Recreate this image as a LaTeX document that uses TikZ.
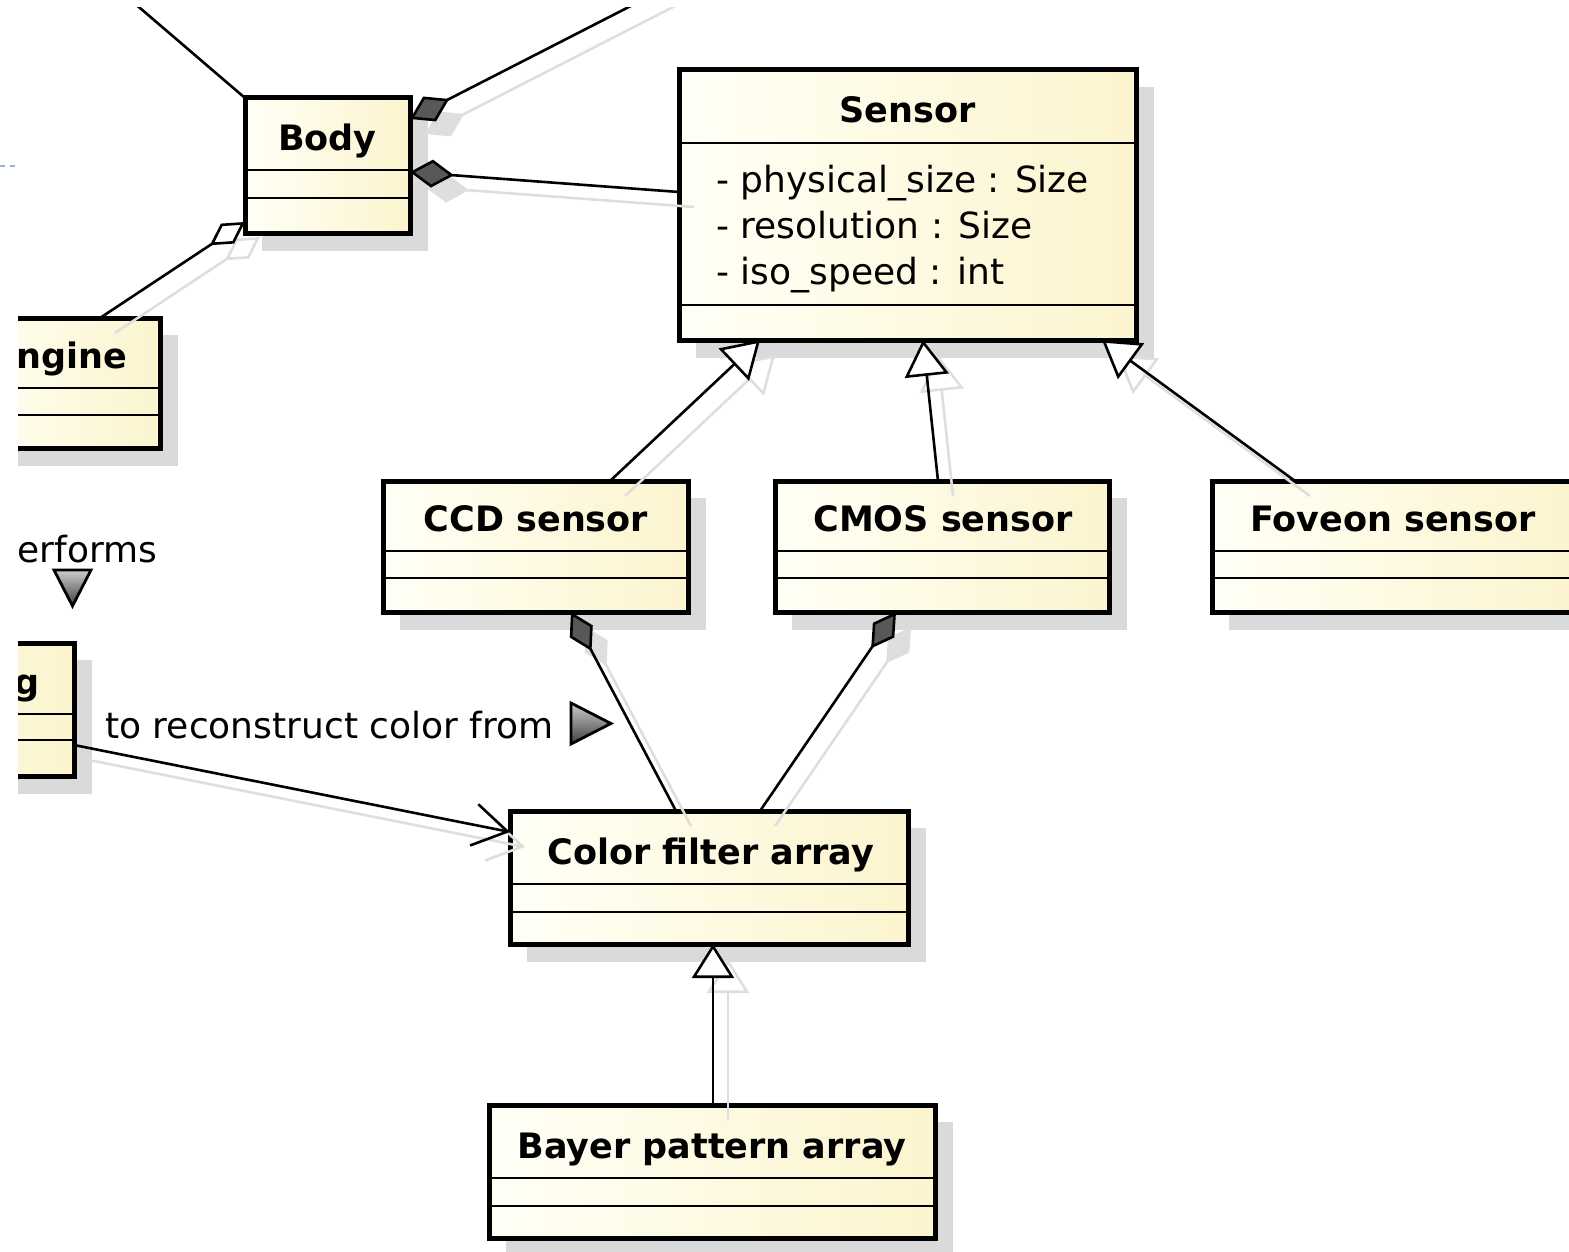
\documentclass[tikz,border=0pt]{standalone}
\usepackage{fontspec}
\setmainfont{DejaVu Sans}
\usetikzlibrary{arrows.meta,fit}

\definecolor{creamL}{RGB}{255,255,246}
\definecolor{creamR}{RGB}{252,244,206}
\definecolor{boxshadow}{RGB}{218,218,218}
\definecolor{linkshadow}{RGB}{222,222,222}
\definecolor{tipgray}{RGB}{88,88,88}
\definecolor{editorblue}{RGB}{150,180,215}

\tikzset{
  classbox/.style={draw=black, line width=2.5pt, inner sep=0pt, outer sep=0pt,
    left color=creamL, right color=creamR},
  rule/.style={draw=black, line width=1pt},
  classtitle/.style={font=\bfseries\fontsize{17.5}{20}\selectfont, inner sep=0pt, anchor=base},
  attrtext/.style={font=\fontsize{18}{21}\selectfont, inner sep=0pt, anchor=base west},
  link/.style={line width=1.3pt, line join=miter},
  readtri/.style={draw=black, line width=1.4pt, line join=miter,
    top color=gray!40, bottom color=black!75},
}

% class box: name, left, top, right, bottom, first rule, second rule (pixel units)
\newcommand\umlclass[7]{%
  \fill[boxshadow] ({#2+17},{#3+17}) rectangle ({#4+18},{#5+18});
  \node[classbox, fit={(#2,#3) (#4,#5)}] (#1) {};
  \draw[rule] (#2,#6) -- (#4,#6);
  \draw[rule] (#2,#7) -- (#4,#7);
}

% all associations except the one leaving the top-left corner
\newcommand\drawlinks[2]{%
  \draw[link, draw=#1, -{Diamond[length=22pt,width=14pt,fill=#2]}]
    (trfree) -- (body.east |- 0,119);
  \draw[link, draw=#1, {Diamond[length=22pt,width=14pt,fill=#2]}-]
    (body.east |- 0,172) -- (sensor.west |- 0,192);
  \draw[link, draw=#1, -{Diamond[length=21pt,width=12pt,fill=white]}]
    (100,0 |- engine.north) -- (body.west |- 0,222);
  \draw[link, draw=#1, -{Triangle[length=18pt,width=22pt,fill=white]}]
    (610,0 |- ccd.north) -- (760,0 |- sensor.south);
  \draw[link, draw=#1, -{Triangle[length=18pt,width=22pt,fill=white]}]
    (938,0 |- cmos.north) -- (923,0 |- sensor.south);
  \draw[link, draw=#1, -{Triangle[length=18pt,width=22pt,fill=white]}]
    (1295,0 |- foveon.north) -- (1102,0 |- sensor.south);
  \draw[link, draw=#1, {Diamond[length=22pt,width=13pt,fill=#2]}-]
    (571,0 |- ccd.south) -- (676,0 |- cfa.north);
  \draw[link, draw=#1, {Diamond[length=22pt,width=13pt,fill=#2]}-]
    (896,0 |- cmos.south) -- (760,0 |- cfa.north);
  \draw[link, draw=#1, -{Straight Barb[length=17pt,width=21pt]}]
    (gbox.east |- 0,745) -- (cfa.west |- 0,832);
  \draw[link, draw=#1, -{Triangle[length=17pt,width=21pt,fill=white]}]
    (713,0 |- bayer.north) -- (713,0 |- cfa.south);
}

\begin{document}
\begin{tikzpicture}[x=0.5pt, y=-0.5pt]
\useasboundingbox (0,0) rectangle (1569,1252);

% dashed guide at the far left edge
\draw[editorblue, line width=0.6pt, dash pattern=on 2.5pt off 2.5pt] (0,166) -- (17,166);

\begin{scope}
\clip (18,8) rectangle (1569,1252);

% classes
\umlclass{body}{245}{98}{410}{233}{170}{198}
\umlclass{engine}{-40}{318}{160}{448}{388}{415}
\umlclass{sensor}{679}{70}{1136}{340}{143}{305}
\umlclass{ccd}{383}{481}{688}{612}{551}{578}
\umlclass{cmos}{775}{481}{1109}{612}{551}{578}
\umlclass{foveon}{1212}{481}{1574}{612}{551}{578}
\umlclass{gbox}{-200}{643}{74}{776}{714}{740}
\umlclass{cfa}{510}{811}{908}{944}{884}{912}
\umlclass{bayer}{489}{1105}{935}{1238}{1178}{1206}

% class names and attributes
\node[classtitle] (body-name) at (327.5,150) {Body};
\node[classtitle, anchor=base east] (engine-name) at (128,368) {ngine};
\node[classtitle] (sensor-name) at (907.5,123) {Sensor};
\node[attrtext] (sensor-a1) at (716,192) {- physical\_size : Size};
\node[attrtext] (sensor-a2) at (716,238) {- resolution : Size};
\node[attrtext] (sensor-a3) at (716,284) {- iso\_speed : int};
\node[classtitle] (ccd-name) at (536,531) {CCD sensor};
\node[classtitle] (cmos-name) at (943,531) {CMOS sensor};
\node[classtitle] (foveon-name) at (1393,531) {Foveon sensor};
\node[classtitle, anchor=base east] (gbox-name) at (40,694) {g};
\node[classtitle] (cfa-name) at (711,864) {Color filter array};
\node[classtitle] (bayer-name) at (712,1158) {Bayer pattern array};

% loose ends of associations leaving the view
\coordinate (tlfree) at (119,-10);
\coordinate (trfree) at (662,-10);

% association shadows, then the associations themselves
\begin{scope}[transform canvas={shift={(7.5pt,-7.5pt)}}]
  \drawlinks{linkshadow}{linkshadow}
\end{scope}
\draw[link] (tlfree) -- (body.north west);
\drawlinks{black}{tipgray}

% association names with reading direction
\node[attrtext] (performs) at (17,562) {erforms};
\shadedraw[readtri] (54,570) -- (91,570) -- (72.5,606) -- cycle;
\node[attrtext] (reconstruct) at (105,738) {to reconstruct color from};
\shadedraw[readtri] (571,703) -- (611,723.5) -- (571,744) -- cycle;
\end{scope}
\end{tikzpicture}
\end{document}
